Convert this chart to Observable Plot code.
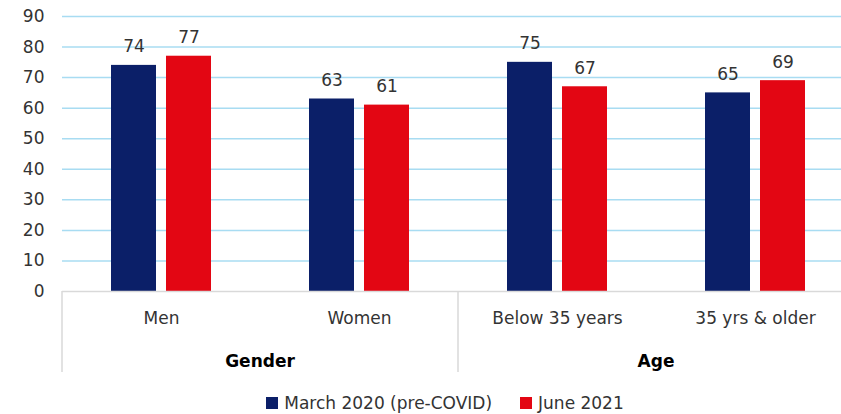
<!DOCTYPE html>
<html>
<head>
<meta charset="utf-8">
<script src="https://cdn.jsdelivr.net/npm/d3@7"></script>
<script src="https://cdn.jsdelivr.net/npm/@observablehq/plot@0.6"></script>
<style>
  body { margin: 0; background: #fff; font-family: "DejaVu Sans", sans-serif; }
  #chart svg { display: block; overflow: visible; }
  .legend { display: flex; justify-content: center; align-items: center; height: 26px; font-size: 17px; color: #333; padding-left: 49px; }
  .legend .item { display: flex; align-items: center; margin: 0 14px; }
  .legend .sw { width: 12px; height: 12px; margin-right: 6px; }
</style>
</head>
<body>
<div id="chart"></div>
<div class="legend" id="legend"></div>
<script>
const categories = ["Men", "Women", "Below 35 years", "35 yrs & older"];
const groups = [
  { name: "Gender", members: ["Men", "Women"] },
  { name: "Age", members: ["Below 35 years", "35 yrs & older"] }
];
const seriesNames = ["March 2020 (pre-COVID)", "June 2021"];
const march2020 = [74, 63, 75, 65];
const june2021 = [77, 61, 67, 69];
const yTicks = [0, 10, 20, 30, 40, 50, 60, 70, 80, 90];
const colors = ["#0b1f68", "#e30613"];

const W = 841, H = 390;
const xRange = [62, 854];
const bw = (xRange[1] - xRange[0]) / categories.length;
const barW = 45, gap = 10;

const rows = categories.map((c, i) => ({ cat: c, a: march2020[i], b: june2021[i] }));

const textStyle = { fontSize: 17, fill: "#333", fontFamily: "DejaVu Sans" };

const plot = Plot.plot({
  width: W,
  height: H,
  marginTop: 16,
  marginBottom: H - 291,
  marginLeft: xRange[0],
  marginRight: W - xRange[1],
  style: { fontFamily: "DejaVu Sans", fontSize: "17px", color: "#333", background: "#fff" },
  x: { domain: categories, range: xRange, padding: 0, label: null },
  y: { domain: [0, 90], label: null, ticks: yTicks },
  marks: [
    Plot.ruleY(yTicks.filter(d => d > 0), { stroke: "#a8dcf2", strokeWidth: 1.5 }),
    Plot.barY(rows, { x: "cat", y: "a", fill: colors[0],
      insetLeft: bw / 2 - gap / 2 - barW, insetRight: bw / 2 + gap / 2 }),
    Plot.barY(rows, { x: "cat", y: "b", fill: colors[1],
      insetLeft: bw / 2 + gap / 2, insetRight: bw / 2 - gap / 2 - barW }),
    Plot.text(rows, { x: "cat", y: "a", text: "a", dx: -(gap / 2 + barW / 2), dy: -13, lineAnchor: "bottom", ...textStyle }),
    Plot.text(rows, { x: "cat", y: "b", text: "b", dx: gap / 2 + barW / 2, dy: -13, lineAnchor: "bottom", ...textStyle }),
    Plot.ruleY([0], { stroke: "#d9d9d9", strokeWidth: 1.5 }),
    Plot.axisY({ ticks: yTicks, tickSize: 0, tickPadding: 18, fontSize: 17, fill: "#333" }),
    Plot.axisX({ tickSize: 0, tickPadding: 20, fontSize: 17, fill: "#333" })
  ]
});

// Hierarchical group axis drawn with the plot's own x scale
const xs = plot.scale("x");
const xPos = c => xs.apply(c);
const svg = d3.select(plot);
const g = svg.append("g");
const y0 = 291, yEnd = 372;
const edges = [];
groups.forEach(gr => {
  const left = xPos(gr.members[0]);
  const right = xPos(gr.members[gr.members.length - 1]) + xs.bandwidth;
  edges.push(left, right);
  g.append("text")
    .attr("x", (left + right) / 2)
    .attr("y", 361)
    .attr("dy", "0.35em")
    .attr("text-anchor", "middle")
    .attr("font-size", 17)
    .attr("font-weight", "bold")
    .attr("fill", "#000")
    .text(gr.name);
});
Array.from(new Set(edges)).forEach(x => {
  g.append("line")
    .attr("x1", x).attr("x2", x)
    .attr("y1", y0).attr("y2", yEnd)
    .attr("stroke", "#d9d9d9").attr("stroke-width", 1.5);
});

document.getElementById("chart").appendChild(plot);

const legend = document.getElementById("legend");
seriesNames.forEach((s, i) => {
  const item = document.createElement("div");
  item.className = "item";
  item.innerHTML = `<span class="sw" style="background:${colors[i]}"></span><span>${s}</span>`;
  legend.appendChild(item);
});
</script>
</body>
</html>
